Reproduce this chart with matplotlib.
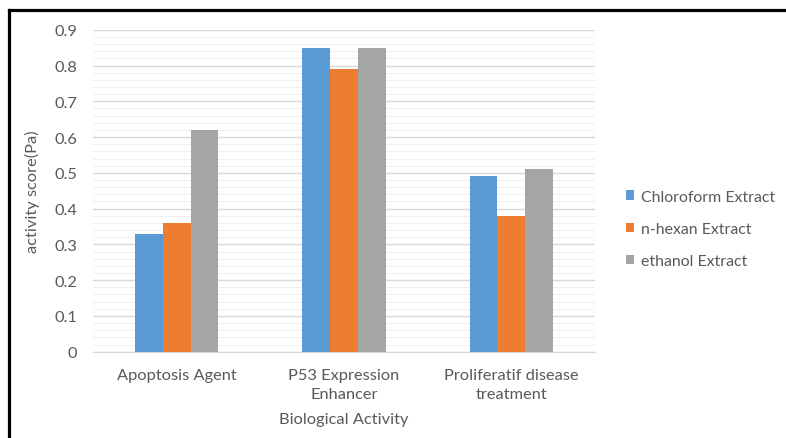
import matplotlib.pyplot as plt
import numpy as np
from matplotlib.lines import Line2D
from matplotlib.ticker import MultipleLocator

plt.rcParams['font.family'] = ['Lato', 'DejaVu Sans']

# activity scores per extract
categories = ['Apoptosis Agent', 'P53 Expression\nEnhancer', 'Proliferatif disease\ntreatment']
series_names = ['Chloroform Extract', 'n-hexan Extract', 'ethanol Extract']
chloroform = [0.33, 0.85, 0.49]
n_hexan = [0.36, 0.79, 0.38]
ethanol = [0.62, 0.85, 0.51]
colors = ['#5B9BD5', '#ED7D31', '#A5A5A5']
text_color = '#595959'
fs = 11.8

fig = plt.figure(figsize=(7.86, 4.39), dpi=100)
ax = fig.add_axes([0.1183, 0.1966, 0.6387, 0.7334])

x = np.arange(len(categories))
bar_w = 0.166
for i, (vals, name) in enumerate(zip([chloroform, n_hexan, ethanol], series_names)):
    ax.bar(x + (i - 1) * bar_w, vals, bar_w, color=colors[i], label=name, zorder=3)

ax.set_xlim(-0.5, 2.5)
ax.set_ylim(0, 0.9)
ax.yaxis.set_minor_locator(MultipleLocator(0.02))
ax.set_yticks(np.arange(0, 0.91, 0.1))
ax.set_yticklabels(['0'] + [f'{v:.1f}' for v in np.arange(0.1, 0.91, 0.1)])
ax.grid(axis='y', which='major', color='#d9d9d9', linewidth=1.0, zorder=0)
ax.grid(axis='y', which='minor', color='#f0f0f0', linewidth=0.8, zorder=0)
ax.set_xticks(x)
ax.set_xticklabels(categories, linespacing=1.45)
ax.tick_params(axis='both', which='both', length=0, labelsize=fs, colors=text_color)
ax.tick_params(axis='y', pad=11.5)
ax.tick_params(axis='x', pad=12)
for s in ['top', 'right', 'left']:
    ax.spines[s].set_visible(False)
ax.spines['bottom'].set_color('#d9d9d9')

ax.set_xlabel('Biological Activity', fontsize=fs, color=text_color, labelpad=8)
ax.set_ylabel('activity score(Pa)', fontsize=fs, color=text_color, labelpad=10)

ax.legend(loc='center left', bbox_to_anchor=(0.778, 0.476), bbox_transform=fig.transFigure,
          frameon=False, fontsize=11.4, labelcolor=text_color, handlelength=0.55,
          handleheight=0.55, handletextpad=0.4, labelspacing=1.15)

# black frame on top and left edges
fig.add_artist(Line2D([0.012, 1.0], [0.976, 0.976], color='black', linewidth=2.3,
                      transform=fig.transFigure))
fig.add_artist(Line2D([0.012, 0.012], [0.0, 0.976], color='black', linewidth=2.3,
                      transform=fig.transFigure))

fig.savefig('out.png', dpi=100)
